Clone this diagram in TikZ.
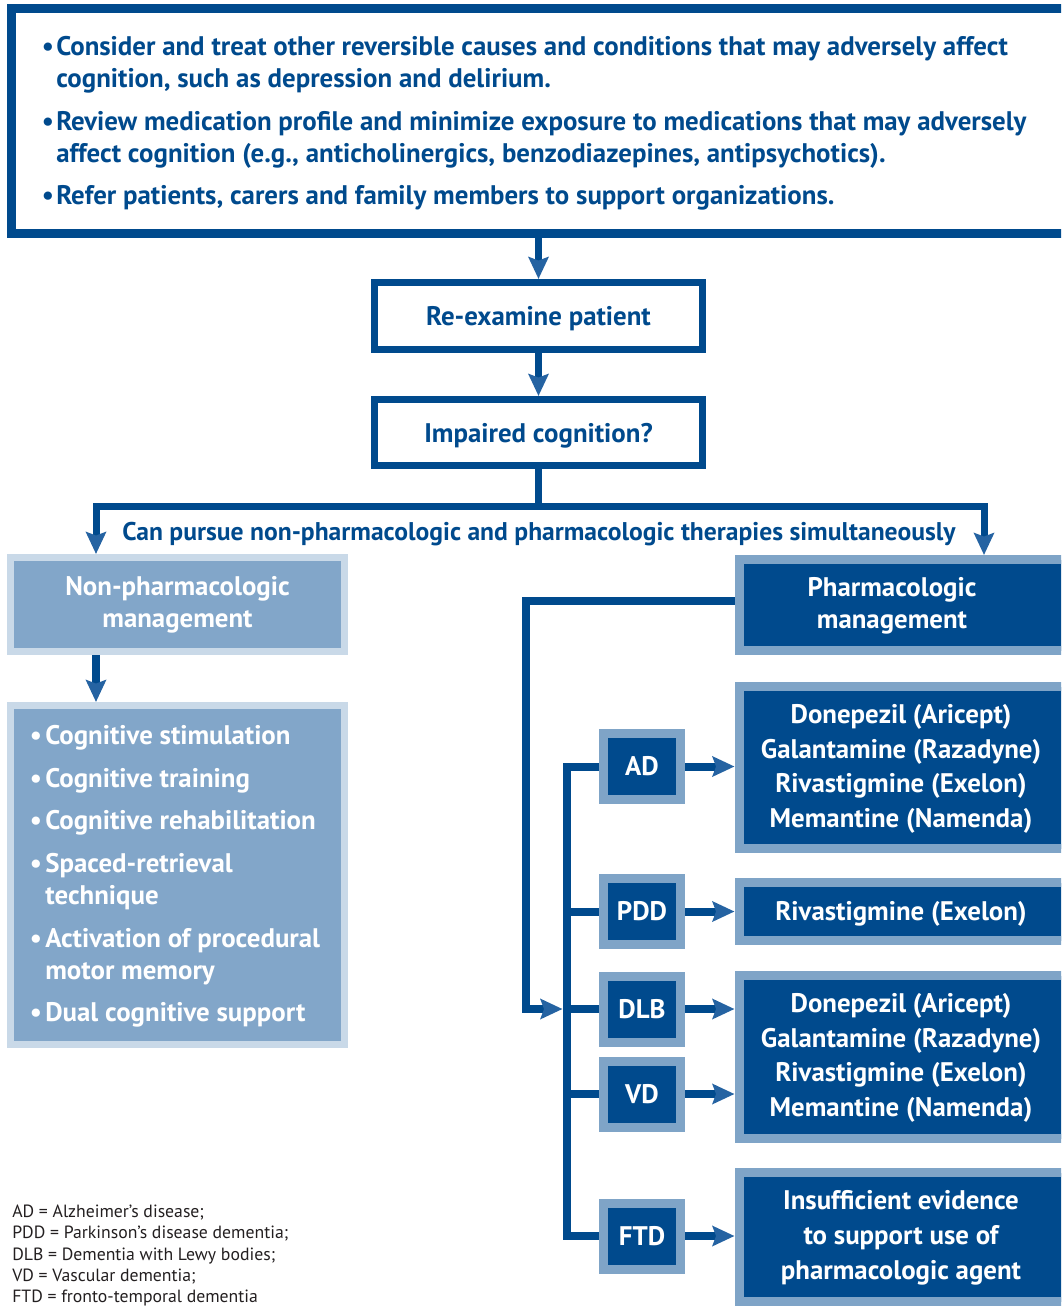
\documentclass[tikz,border=0pt]{standalone}
\usepackage{fontspec}
\setmainfont{PT Sans}
\usetikzlibrary{arrows.meta}
\newlength\pxl
\setlength\pxl{0.025cm}
\definecolor{dkblue}{HTML}{004A8D}
\definecolor{mdblue}{HTML}{7FA4C7}
\definecolor{nonfill}{HTML}{82A6C9}
\definecolor{ltblue}{HTML}{C9D9E8}
\definecolor{tipblue}{HTML}{2563A2}
\definecolor{notegray}{HTML}{231F20}
\newcommand{\hdfont}{\bfseries\fontsize{19.1}{22.8}\selectfont}
\newcommand{\simfont}{\bfseries\fontsize{18.2}{22.8}\selectfont}
\newcommand{\drugfont}{\bfseries\fontsize{19.1}{24.7}\selectfont}
\newcommand{\notefont}{\fontsize{12.6}{15.15}\selectfont}
\newcommand{\itm}[1]{\makebox[#1\pxl][l]{\hspace*{-2.5\pxl}\textbullet}}

\begin{document}
\begin{tikzpicture}[x=0.025cm, y=-0.025cm, line join=miter,
    flowarrow/.style={draw=dkblue, line width=7*\pxl, -{Stealth[length=15.6pt, width=14.2pt, inset=2.5pt, color=tipblue]}},
    busline/.style={draw=dkblue, line width=8*\pxl},
    flowbox/.style={draw=dkblue, line width=7*\pxl, fill=white, text=dkblue, font=\hdfont, text depth=0pt, inner sep=0pt},
    softbox/.style={draw=ltblue, line width=7*\pxl, fill=nonfill, text=white, font=\hdfont, align=center, inner sep=0pt},
    darkbox/.style={draw=mdblue, line width=9*\pxl, fill=dkblue, text=white, font=\hdfont, align=center, inner sep=0pt},
    boxtext/.style={text=white, font=\drugfont, align=center, inner sep=0pt}]
  \path[use as bounding box, clip] (0,0) rectangle (1061,1306);

  % top box and the two checks
  \node (topbox) [draw=dkblue, line width=9*\pxl, minimum width=1059*\pxl, minimum height=225*\pxl] at (541,121) {};
  \node (toptext) [anchor=west, text=dkblue, font=\hdfont, align=left, inner sep=0pt] at (44,123.5)
    {\itm{12}Consider and treat other reversible causes and conditions that may adversely affect\\
     \hspace*{12\pxl}cognition, such as depression and delirium.\\[7.5pt]
     \itm{12}Review medication profile and minimize exposure to medications that may adversely\\
     \hspace*{12\pxl}affect cognition (e.g., anticholinergics, benzodiazepines, antipsychotics).\\[7.5pt]
     \itm{12}Refer patients, carers and family members to support organizations.};
  \node (reexam) [flowbox, minimum width=328*\pxl, minimum height=67*\pxl] at (538.5,316) {Re-examine patient};
  \node (impaired) [flowbox, minimum width=328*\pxl, minimum height=66*\pxl] at (538.5,432.5) {Impaired cognition?};
  \draw[flowarrow] (topbox.south -| reexam.north) -- (reexam.north);
  \draw[flowarrow] (reexam.south) -- (impaired.north);

  % split
  \coordinate (splitl) at (96,506);
  \coordinate (splitr) at (984,506);
  \node (simul) [text=dkblue, font=\simfont, inner sep=0pt] at (539,534)
    {Can pursue non-pharmacologic and pharmacologic therapies simultaneously};

  % non-pharmacologic side
  \node (nonpharm) [softbox, minimum width=334*\pxl, minimum height=94*\pxl] at (177.5,604.5) {Non-pharmacologic\\management};
  \node (nonlist) [softbox, minimum width=334*\pxl, minimum height=339*\pxl] at (177.5,875) {};
  \node (nonitems) [anchor=west, text=white, font=\hdfont, align=left, inner sep=0pt] at (32,876.5)
    {\itm{13}Cognitive stimulation\\[7.5pt]
     \itm{13}Cognitive training\\[7.5pt]
     \itm{13}Cognitive rehabilitation\\[7.5pt]
     \itm{13}Spaced-retrieval\\
     \hspace*{13\pxl}technique\\[7.5pt]
     \itm{13}Activation of procedural\\
     \hspace*{13\pxl}motor memory\\[7.5pt]
     \itm{13}Dual cognitive support};

  % pharmacologic side
  \node (pharm) [darkbox, anchor=west, minimum width=400*\pxl, minimum height=91*\pxl] at (734.5,605) {};
  \node (pharmtext) [boxtext, font=\hdfont] at (892,606) {Pharmacologic\\management};
  \node (drugad) [darkbox, anchor=west, minimum width=400*\pxl, minimum height=162*\pxl] at (734.5,767.5) {};
  \node (drugadtext) [boxtext] at (901,769)
    {Donepezil (Aricept)\\Galantamine (Razadyne)\\Rivastigmine (Exelon)\\Memantine (Namenda)};
  \node (drugpdd) [darkbox, anchor=west, minimum width=400*\pxl, minimum height=58*\pxl] at (734.5,911.5) {};
  \node (drugpddtext) [boxtext] at (901,914) {Rivastigmine (Exelon)};
  \node (drugdv) [darkbox, anchor=west, minimum width=400*\pxl, minimum height=163*\pxl] at (734.5,1057) {};
  \node (drugdvtext) [boxtext] at (901,1058)
    {Donepezil (Aricept)\\Galantamine (Razadyne)\\Rivastigmine (Exelon)\\Memantine (Namenda)};
  \node (drugftd) [darkbox, anchor=west, minimum width=400*\pxl, minimum height=129*\pxl] at (734.5,1237) {};
  \node (drugftdtext) [boxtext] at (901,1238)
    {Insufficient evidence\\to support use of\\pharmacologic agent};

  \node (ad) [darkbox, minimum width=77*\pxl, minimum height=66*\pxl] at (642,766.5) {AD};
  \node (pdd) [darkbox, minimum width=77*\pxl, minimum height=66*\pxl] at (642,911.5) {PDD};
  \node (dlb) [darkbox, minimum width=77*\pxl, minimum height=66*\pxl] at (642,1009) {DLB};
  \node (vd) [darkbox, minimum width=77*\pxl, minimum height=66*\pxl] at (642,1094) {VD};
  \node (ftd) [darkbox, minimum width=77*\pxl, minimum height=66*\pxl] at (642,1236) {FTD};

  % connectors
  \draw[flowarrow] (impaired.south) |- (splitl) -- (splitl |- nonpharm.north);
  \draw[flowarrow] (impaired.south) |- (splitr) -- (splitr |- pharm.north);
  \draw[flowarrow, line width=8*\pxl] (nonpharm.south -| splitl) -- (nonlist.north -| splitl);

  \coordinate (busx) at (566.5,766.5);
  \coordinate (loopc) at (526,1009);
  \coordinate (loopend) at (562.5,1009);
  \draw[busline] (ad.west) -| (busx |- ftd.west) -- (ftd.west);
  \draw[busline] (pdd.west) -- (pdd.west -| busx);
  \draw[busline] (dlb.west) -- (dlb.west -| busx);
  \draw[busline] (vd.west) -- (vd.west -| busx);
  \draw[flowarrow, line width=8*\pxl] ([yshift=4*\pxl]pharm.west) -| (loopc) -- (loopend);

  \draw[flowarrow, line width=8*\pxl] (ad.east) -- (ad.east -| drugad.west);
  \draw[flowarrow, line width=8*\pxl] (pdd.east) -- (pdd.east -| drugpdd.west);
  \draw[flowarrow, line width=8*\pxl] (dlb.east) -- (dlb.east -| drugdv.west);
  \draw[flowarrow, line width=8*\pxl] (vd.east) -- (vd.east -| drugdv.west);
  \draw[flowarrow, line width=8*\pxl] (ftd.east) -- (ftd.east -| drugftd.west);

  % abbreviations
  \node (notes) [anchor=west, text=notegray, font=\notefont, align=left, inner sep=0pt] at (12,1255.5)
    {AD = Alzheimer’s disease;\\PDD = Parkinson’s disease dementia;\\DLB = Dementia with Lewy bodies;\\VD = Vascular dementia;\\FTD = fronto-temporal dementia};
\end{tikzpicture}
\end{document}
